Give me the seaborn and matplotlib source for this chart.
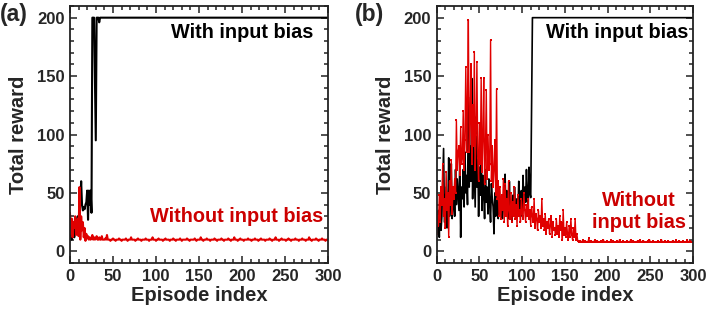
import numpy as np
import pandas as pd
import matplotlib
matplotlib.use("Agg")
import matplotlib.pyplot as plt
import seaborn as sns
from matplotlib.ticker import MultipleLocator

# ==============================================================================
# Data (one value per episode)
# ==============================================================================
black_a_start = [20, 12, 10, 14, 18, 12, 22, 15, 25, 30, 18, 28, 45, 60, 40, 35, 38, 36, 40, 42,
                 52, 27, 52, 40, 52, 33, 200, 200, 200, 150, 95, 200, 200, 200, 196, 200]
black_a_tail = [200, 200, 200, 200, 200, 200, 200, 200, 200, 200, 200, 200, 200, 200, 200, 200, 200, 200, 200, 200,
                200, 200, 200, 200, 200, 200, 200, 200, 200, 200, 200, 200, 200, 200, 200, 200, 200, 200, 200, 200,
                200, 200, 200, 200, 200, 200, 200, 200, 200, 200, 200, 200, 200, 200, 200, 200, 200, 200, 200, 200,
                200, 200, 200, 200, 200, 200, 200, 200, 200, 200, 200, 200, 200, 200, 200, 200, 200, 200, 200, 200,
                200, 200, 200, 200, 200, 200, 200, 200, 200, 200, 200, 200, 200, 200, 200, 200, 200, 200, 200, 200,
                200, 200, 200, 200, 200, 200, 200, 200, 200, 200, 200, 200, 200, 200, 200, 200, 200, 200, 200, 200,
                200, 200, 200, 200, 200, 200, 200, 200, 200, 200, 200, 200, 200, 200, 200, 200, 200, 200, 200, 200,
                200, 200, 200, 200, 200, 200, 200, 200, 200, 200, 200, 200, 200, 200, 200, 200, 200, 200, 200, 200,
                200, 200, 200, 200, 200, 200, 200, 200, 200, 200, 200, 200, 200, 200, 200, 200, 200, 200, 200, 200,
                200, 200, 200, 200, 200, 200, 200, 200, 200, 200, 200, 200, 200, 200, 200, 200, 200, 200, 200, 200,
                200, 200, 200, 200, 200, 200, 200, 200, 200, 200, 200, 200, 200, 200, 200, 200, 200, 200, 200, 200,
                200, 200, 200, 200, 200, 200, 200, 200, 200, 200, 200, 200, 200, 200, 200, 200, 200, 200, 200, 200,
                200, 200, 200, 200, 200, 200, 200, 200, 200, 200, 200, 200, 200, 200, 200, 200, 200, 200, 200, 200,
                200, 200, 200, 200]

red_a_start = [33, 15, 28, 12, 25, 20, 30, 14, 22, 28, 13, 55, 10, 30, 18, 25, 12, 20, 9, 15,
               11, 13, 10, 12, 10, 11, 14, 10, 12, 10, 11, 13, 10, 10, 12, 10, 10, 13, 10, 10,
               10, 11, 10, 14, 10]
red_a_tail = [10, 10, 9, 10, 10, 11, 10, 10, 9, 10, 10, 10, 11, 10, 10,
              9, 10, 10, 10, 10, 11, 10, 9, 10, 10, 10, 12, 10, 10, 10,
              10, 9, 10, 10, 11, 10, 10, 10, 9, 10, 10, 10, 10, 11, 10,
              10, 10, 9, 10, 10, 10, 12, 10, 10, 10, 9, 10, 10, 11, 10,
              10, 10, 10, 9, 10, 10, 11, 10, 10, 10, 10, 9, 10, 10, 10,
              11, 10, 10, 9, 10, 10, 10, 10, 11, 10, 9, 10, 10, 10, 10,
              10, 11, 10, 10, 9, 10, 10, 10, 10, 10, 11, 10, 9, 10, 10,
              10, 10, 12, 10, 10, 9, 10, 10, 10, 11, 10, 10, 10, 9, 10,
              10, 10, 10, 11, 10, 10, 9, 10, 10, 10, 10, 11, 10, 10, 9,
              10, 10, 10, 10, 11, 10, 10, 9, 10, 10, 10, 12, 10, 10, 10,
              9, 10, 10, 11, 10, 10, 10, 9, 10, 10, 10, 10, 11, 10, 10,
              10, 9, 10, 10, 10, 11, 10, 10, 10, 9, 10, 10, 11, 10, 10,
              10, 10, 9, 10, 10, 10, 10, 11, 10, 10, 9, 10, 10, 10, 12,
              10, 10, 10, 9, 10, 10, 11, 10, 10, 10, 10, 9, 10, 10, 11,
              10, 10, 9, 10, 10, 10, 10, 11, 10, 10, 10, 9, 10, 10, 10,
              11, 10, 10, 10, 9, 10, 10, 10, 12, 10, 10, 9, 10, 10, 10,
              10, 11, 10, 10, 9, 10, 10, 10, 11, 10, 10, 10, 9, 10, 10]

black_b_start = [22, 15, 35, 12, 48, 18, 30, 60, 88, 25,
                 40, 55, 20, 35, 80, 30, 45, 75, 28, 38,
                 55, 30, 70, 40, 62, 48, 35, 80, 12, 55,
                 45, 70, 38, 85, 50, 65, 40, 132, 55, 90,
                 60, 148, 45, 100, 70, 38, 115, 55, 85, 30,
                 72, 48, 97, 35, 65, 50, 28, 70, 42, 55,
                 32, 62, 40, 25, 58, 45, 38, 15, 50, 30,
                 48, 35, 28, 55, 32, 45, 30, 28, 40, 35,
                 66, 30, 52, 38, 28, 60, 35, 42, 25, 48,
                 30, 55, 38, 28, 45, 32, 60, 35, 40, 52,
                 30, 65, 38, 55, 42, 70, 48, 35, 72, 50,
                 46, 125]
black_b_tail = [200, 200, 200, 200, 200, 200, 200, 200, 200, 200, 200, 200, 200, 200, 200, 200, 200, 200, 200, 200,
                200, 200, 200, 200, 200, 200, 200, 200, 200, 200, 200, 200, 200, 200, 200, 200, 200, 200, 200, 200,
                200, 200, 200, 200, 200, 200, 200, 200, 200, 200, 200, 200, 200, 200, 200, 200, 200, 200, 200, 200,
                200, 200, 200, 200, 200, 200, 200, 200, 200, 200, 200, 200, 200, 200, 200, 200, 200, 200, 200, 200,
                200, 200, 200, 200, 200, 200, 200, 200, 200, 200, 200, 200, 200, 200, 200, 200, 200, 200, 200, 200,
                200, 200, 200, 200, 200, 200, 200, 200, 200, 200, 200, 200, 200, 200, 200, 200, 200, 200, 200, 200,
                200, 200, 200, 200, 200, 200, 200, 200, 200, 200, 200, 200, 200, 200, 200, 200, 200, 200, 200, 200,
                200, 200, 200, 200, 200, 200, 200, 200, 200, 200, 200, 200, 200, 200, 200, 200, 200, 200, 200, 200,
                200, 200, 200, 200, 200, 200, 200, 200, 200, 200, 200, 200, 200, 200, 200, 200, 200, 200, 200, 200,
                200, 200, 200, 200, 200, 200, 200, 200]

red_b_start = [15, 30, 22, 48, 25, 55, 40, 75, 30, 45,
               20, 68, 35, 50, 12, 60, 40, 78, 32, 55,
               45, 62, 50, 112, 70, 85, 90, 65, 106, 75,
               80, 120, 70, 95, 158, 85, 130, 198, 85, 110,
               160, 75, 125, 90, 171, 70, 100, 162, 80, 60,
               110, 75, 148, 68, 95, 148, 58, 85, 138, 62,
               100, 70, 75, 181, 60, 90, 55, 70, 95, 48,
               139, 45, 60, 30, 55, 28, 48, 35, 62, 25,
               58, 30, 45, 22, 60, 35, 28, 50, 25, 42,
               30, 55, 28, 40, 22, 48, 30, 35, 25, 45,
               32, 28, 50, 35, 25, 40, 30, 45, 28, 35,
               22, 38, 30, 25, 45, 20, 32, 28, 18, 35,
               25, 30, 20, 45, 22, 28, 18, 32, 15, 25,
               20, 28, 15, 22, 30, 12, 25, 18, 20, 14,
               28, 15, 22, 12, 30, 18, 25, 10, 35, 14,
               20, 12, 25, 15, 10, 22, 12, 28, 14, 10,
               20, 12, 28, 10, 15, 9]
red_b_tail = [8, 8, 9, 8, 8, 10, 8, 8, 9, 8, 8, 8, 11, 8, 8,
              9, 8, 8, 8, 10, 8, 8, 9, 8, 8, 8, 9, 8, 8, 10,
              8, 8, 8, 9, 8, 8, 8, 8, 10, 8, 9, 8, 8, 8, 8,
              9, 8, 8, 10, 8, 8, 8, 9, 8, 8, 8, 8, 9, 8, 8,
              8, 10, 8, 8, 9, 8, 8, 8, 8, 9, 8, 8, 10, 8, 8,
              8, 9, 8, 8, 8, 8, 9, 8, 10, 8, 8, 8, 9, 8, 8,
              8, 8, 8, 9, 8, 8, 8, 10, 8, 8, 8, 9, 8, 8, 8,
              9, 8, 8, 8, 8, 9, 8, 8, 8, 10, 8, 8, 8, 9, 8,
              8, 8, 9, 8, 8, 8, 8, 10, 8, 8, 9, 8, 8, 8]

black_a = black_a_start + black_a_tail
red_a = red_a_start + red_a_tail
black_b = black_b_start + black_b_tail
red_b = red_b_start + red_b_tail

LINE_RED = "#E00000"
TEXT_RED = "#CC0000"

# ==============================================================================
# Plotting
# ==============================================================================
sns.set_style("ticks")
plt.rcParams['font.family'] = ['Liberation Sans', 'DejaVu Sans']
plt.rcParams['font.weight'] = 'bold'
plt.rcParams['axes.labelweight'] = 'bold'

fig = plt.figure(figsize=(7.09, 3.15), dpi=100)
ax_a = fig.add_axes([0.0987, 0.165, 0.364, 0.816])
ax_b = fig.add_axes([0.616, 0.165, 0.3615, 0.816])


def style_axis(ax):
    ax.set_xlim(0, 300)
    ax.set_ylim(-10, 210)
    ax.xaxis.set_major_locator(MultipleLocator(50))
    ax.xaxis.set_minor_locator(MultipleLocator(10))
    ax.yaxis.set_major_locator(MultipleLocator(50))
    ax.yaxis.set_minor_locator(MultipleLocator(10))
    ax.tick_params(which='both', direction='in', top=True, right=True,
                   width=1.1, color='#222222')
    ax.tick_params(which='major', length=5, labelsize=12, pad=4)
    ax.tick_params(which='minor', length=3)
    for sp in ax.spines.values():
        sp.set_linewidth(1.3)
        sp.set_color('#222222')
    ax.set_xlabel("Episode index", fontsize=14.5, fontweight='bold', labelpad=2)
    ax.set_ylabel("Total reward", fontsize=14.5, fontweight='bold', labelpad=6)


# (a)
sns.lineplot(x=np.arange(len(black_a)), y=black_a, color='black', linewidth=1.5, ax=ax_a)
sns.lineplot(x=np.arange(len(red_a)), y=red_a, color=LINE_RED, linewidth=1.5, ax=ax_a)
style_axis(ax_a)
ax_a.text(283, 187, "With input bias", ha='right', va='center', fontsize=14.3, fontweight='bold', color='black')
ax_a.text(294, 30, "Without input bias", ha='right', va='center', fontsize=14.3, fontweight='bold', color=TEXT_RED)

# (b)
sns.lineplot(x=np.arange(len(black_b)), y=black_b, color='black', linewidth=1.2, ax=ax_b)
sns.lineplot(x=np.arange(len(red_b)), y=red_b, color=LINE_RED, linewidth=1.0,
             marker='s', markersize=1.8, markeredgewidth=0, ax=ax_b)
style_axis(ax_b)
ax_b.text(294, 187, "With input bias", ha='right', va='center', fontsize=14.3, fontweight='bold', color='black')
ax_b.text(237, 34, "Without\ninput bias", ha='center', va='center', fontsize=14.3, fontweight='bold',
          color=TEXT_RED, linespacing=1.2)

fig.text(0.0, 0.99, "(a)", fontsize=16.5, fontweight='bold', va='top', ha='left')
fig.text(0.501, 0.99, "(b)", fontsize=16.5, fontweight='bold', va='top', ha='left')

fig.savefig("out.png", dpi=100)
